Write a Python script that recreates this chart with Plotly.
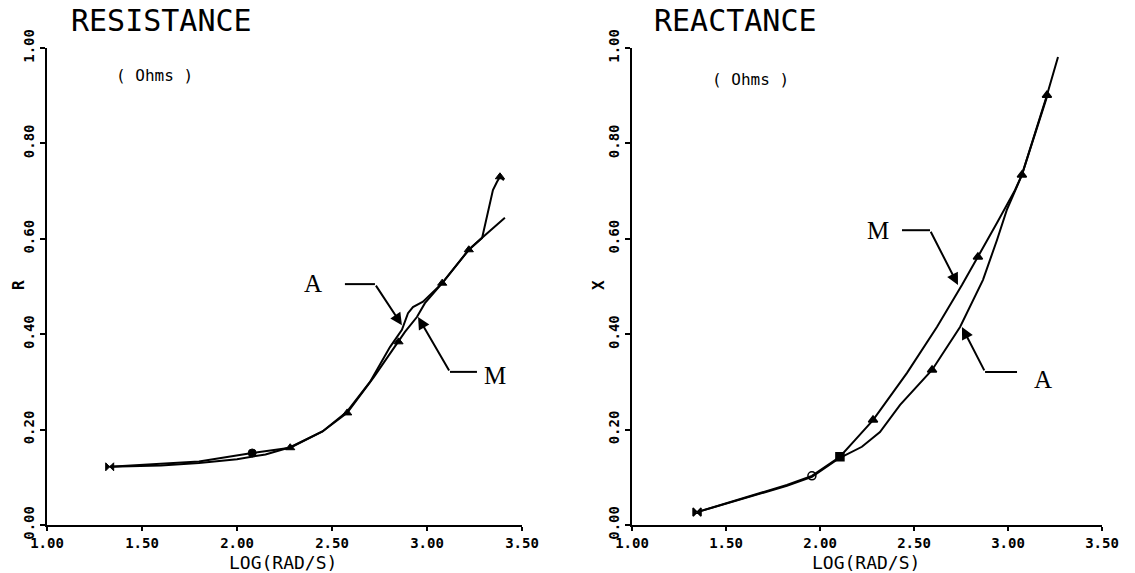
import plotly.graph_objects as go

# ---------------- data ----------------
# Resistance panel (x = log10(rad/s), y = R in ohms)
res_M_x = [1.33, 1.80, 2.08, 2.28, 2.45, 2.58, 2.72, 2.85, 2.884, 2.947, 2.989, 3.08, 3.22, 3.29, 3.347, 3.368, 3.384, 3.405]
res_M_y = [0.122, 0.133, 0.151, 0.162, 0.196, 0.235, 0.310, 0.384, 0.405, 0.436, 0.465, 0.507, 0.577, 0.602, 0.702, 0.719, 0.730, 0.723]
res_A_x = [1.33, 1.60, 1.80, 2.00, 2.15, 2.28, 2.45, 2.58, 2.70, 2.805, 2.868, 2.90, 2.926, 2.979, 3.08, 3.22, 3.29, 3.41]
res_A_y = [0.122, 0.125, 0.130, 0.138, 0.148, 0.163, 0.196, 0.238, 0.300, 0.373, 0.409, 0.444, 0.457, 0.468, 0.507, 0.577, 0.602, 0.644]
res_mk_x = [1.33, 2.08, 2.28, 2.58, 2.85, 3.08, 3.22, 3.384]
res_mk_y = [0.122, 0.151, 0.162, 0.235, 0.384, 0.507, 0.577, 0.730]
res_mk_sym = ["bowtie", "circle", "triangle-up", "triangle-up", "triangle-up", "triangle-up", "triangle-up", "triangle-up"]

# Reactance panel (x = log10(rad/s), y = X in ohms)
reac_M_x = [1.346, 1.824, 1.957, 2.106, 2.186, 2.282, 2.463, 2.622, 2.755, 2.840, 2.941, 3.037, 3.074, 3.207, 3.266]
reac_M_y = [0.027, 0.084, 0.103, 0.143, 0.178, 0.220, 0.319, 0.415, 0.503, 0.562, 0.633, 0.702, 0.734, 0.901, 0.981]
reac_A_x = [1.346, 1.824, 1.957, 2.106, 2.223, 2.319, 2.426, 2.596, 2.745, 2.867, 2.941, 2.995, 3.048, 3.074, 3.213]
reac_A_y = [0.027, 0.082, 0.101, 0.141, 0.164, 0.195, 0.252, 0.325, 0.415, 0.514, 0.597, 0.662, 0.710, 0.734, 0.905]
reac_mk_x = [1.346, 1.957, 2.106, 2.282, 2.596, 2.840, 3.074, 3.207]
reac_mk_y = [0.027, 0.103, 0.143, 0.220, 0.325, 0.562, 0.734, 0.901]
reac_mk_sym = ["bowtie", "circle-open", "square", "triangle-up", "triangle-up", "triangle-up", "triangle-up", "triangle-up"]

x_ticks = [1.0, 1.5, 2.0, 2.5, 3.0, 3.5]
x_ticktext = ["1.00", "1.50", "2.00", "2.50", "3.00", "3.50"]
y_ticks = [0.0, 0.2, 0.4, 0.6, 0.8, 1.0]
y_ticktext = ["0.00", "0.20", "0.40", "0.60", "0.80", "1.00"]

# callouts: (label, text_x, text_y, line_start_x, line_end_x, line_y, tip_x, tip_y)
res_callouts = [
    ("A", 2.40, 0.507, 2.568, 2.726, 0.505, 2.868, 0.419),
    ("M", 3.358, 0.314, 3.263, 3.121, 0.321, 2.953, 0.436),
]
reac_callouts = [
    ("M", 2.309, 0.618, 2.436, 2.585, 0.618, 2.734, 0.503),
    ("A", 3.186, 0.304, 3.048, 2.878, 0.321, 2.755, 0.415),
]

# ---------------- figure ----------------
W, H = 1135, 573

def px_x(p):
    return p / W

def px_y(p):
    return (H - p) / H

fig = go.Figure()

line_style = dict(color="black", width=2)

for xs, ys in [(res_M_x, res_M_y), (res_A_x, res_A_y)]:
    fig.add_trace(go.Scatter(x=xs, y=ys, mode="lines", line=line_style,
                             xaxis="x", yaxis="y", showlegend=False, hoverinfo="skip"))
fig.add_trace(go.Scatter(x=res_mk_x, y=res_mk_y, mode="markers",
                         marker=dict(symbol=res_mk_sym, size=8, color="black",
                                     line=dict(color="black", width=1)),
                         xaxis="x", yaxis="y", showlegend=False))

for xs, ys in [(reac_M_x, reac_M_y), (reac_A_x, reac_A_y)]:
    fig.add_trace(go.Scatter(x=xs, y=ys, mode="lines", line=line_style,
                             xaxis="x2", yaxis="y2", showlegend=False, hoverinfo="skip"))
fig.add_trace(go.Scatter(x=reac_mk_x, y=reac_mk_y, mode="markers",
                         marker=dict(symbol=reac_mk_sym, size=8, color="black",
                                     line=dict(color="black", width=1.5)),
                         xaxis="x2", yaxis="y2", showlegend=False))

tickfont = dict(family="DejaVu Sans Mono", size=14, color="black", weight="bold")

def xaxis_def(dom, anchor):
    return dict(domain=dom, range=[1.0, 3.5], tickvals=x_ticks, ticktext=x_ticktext,
                showline=True, linecolor="black", linewidth=2, ticks="outside",
                ticklen=4, tickwidth=2, tickcolor="black", showgrid=False,
                zeroline=False, tickfont=tickfont, anchor=anchor, automargin=False,
                fixedrange=True)

def yaxis_def(anchor):
    return dict(domain=[px_y(525), px_y(48)], range=[0.0, 1.0], tickvals=y_ticks,
                ticktext=y_ticktext, tickangle=-90, showline=True, linecolor="black",
                linewidth=2, ticks="outside", ticklen=5, tickwidth=2, tickcolor="black",
                showgrid=False, zeroline=False, tickfont=tickfont, anchor=anchor,
                automargin=False, fixedrange=True)

fig.update_layout(
    width=W, height=H, autosize=False,
    margin=dict(l=0, r=0, t=0, b=0),
    paper_bgcolor="white", plot_bgcolor="white",
    xaxis=xaxis_def([px_x(47), px_x(522)], "y"),
    yaxis=yaxis_def("x"),
    xaxis2=xaxis_def([px_x(632), px_x(1102)], "y2"),
    yaxis2=yaxis_def("x2"),
    showlegend=False,
)

annotations = []
shapes = []

def txt(text, x, y, size, family="DejaVu Sans Mono", angle=0, weight="normal"):
    annotations.append(dict(text=text, x=px_x(x), y=px_y(y), xref="paper", yref="paper",
                            showarrow=False, textangle=angle, xanchor="center", yanchor="middle",
                            font=dict(family=family, size=size, color="black", weight=weight)))

# titles
txt("RESISTANCE", 161, 21, 30)
txt("REACTANCE", 735, 21, 30)
txt("( Ohms )", 154, 76, 16)
txt("( Ohms )", 750, 79, 16)
# axis titles
txt("LOG(RAD/S)", 283, 562, 18)
txt("LOG(RAD/S)", 866, 562, 18)
txt("R", 18, 285, 16, angle=-90, weight="bold")
txt("X", 598, 285, 16, angle=-90, weight="bold")

for xr, yr, callouts in [("x", "y", res_callouts), ("x2", "y2", reac_callouts)]:
    for lab, tx, ty, lx0, lx1, ly, tipx, tipy in callouts:
        annotations.append(dict(text=lab, x=tx, y=ty, xref=xr, yref=yr, showarrow=False,
                                font=dict(family="Liberation Serif", size=25, color="black")))
        shapes.append(dict(type="line", x0=lx0, x1=lx1, y0=ly, y1=ly, xref=xr, yref=yr,
                           line=dict(color="black", width=2)))
        annotations.append(dict(text="", x=tipx, y=tipy, ax=lx1, ay=ly, xref=xr, yref=yr,
                                axref=xr, ayref=yr, showarrow=True, arrowhead=2,
                                arrowsize=1.2, arrowwidth=2, arrowcolor="black"))

fig.update_layout(annotations=annotations, shapes=shapes)

fig.write_html("out.html")
